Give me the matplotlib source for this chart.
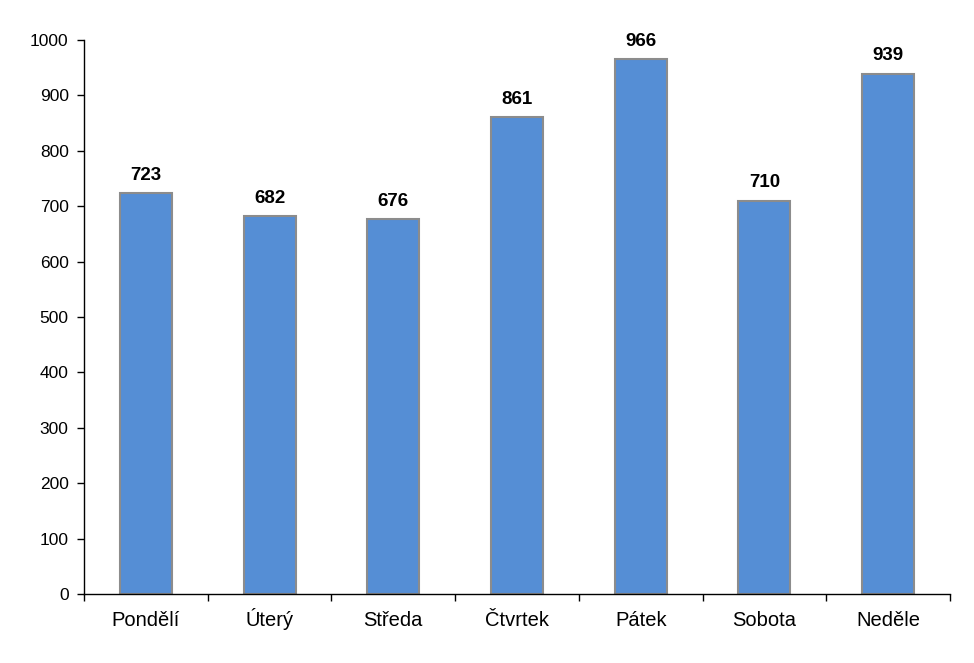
import matplotlib
matplotlib.use("Agg")
import matplotlib.pyplot as plt
import numpy as np

categories = ["Pondělí", "Úterý", "Středa", "Čtvrtek", "Pátek", "Sobota", "Neděle"]
values = [723, 682, 676, 861, 966, 710, 939]
yticks = [0, 100, 200, 300, 400, 500, 600, 700, 800, 900, 1000]

plt.rcParams['font.family'] = ['Liberation Sans', 'DejaVu Sans']

fig = plt.figure(figsize=(9.74, 6.63), dpi=100)
ax = fig.add_axes([84/974, 1-594/663, (950-84)/974, (594-40)/663])

x = np.arange(len(categories))
bars = ax.bar(x, values, width=0.42, color="#558ED5", edgecolor="#8C8C8C", linewidth=1.5, zorder=2)
for xi, v in zip(x, values):
    ax.text(xi, v + 24, str(v), ha="center", va="baseline", fontsize=13.5, fontweight="bold")

ax.set_xlim(-0.5, len(categories) - 0.5)
ax.set_ylim(0, 1000)
ax.set_yticks(yticks)
ax.set_yticklabels([str(t) for t in yticks], fontsize=12.5)
ax.set_xticks(x)
ax.set_xticklabels(categories, fontsize=14.5, va="baseline")
ax.tick_params(axis="x", which="major", length=0, pad=23)
ax.set_xticks(np.arange(-0.5, len(categories)), minor=True)
ax.tick_params(axis="x", which="minor", length=5, width=1, direction="out")
ax.tick_params(axis="y", length=5, width=1, direction="out", pad=6)
for s in ["top", "right"]:
    ax.spines[s].set_visible(False)
for s in ["left", "bottom"]:
    ax.spines[s].set_linewidth(1)

fig.savefig("out.png", dpi=100)
